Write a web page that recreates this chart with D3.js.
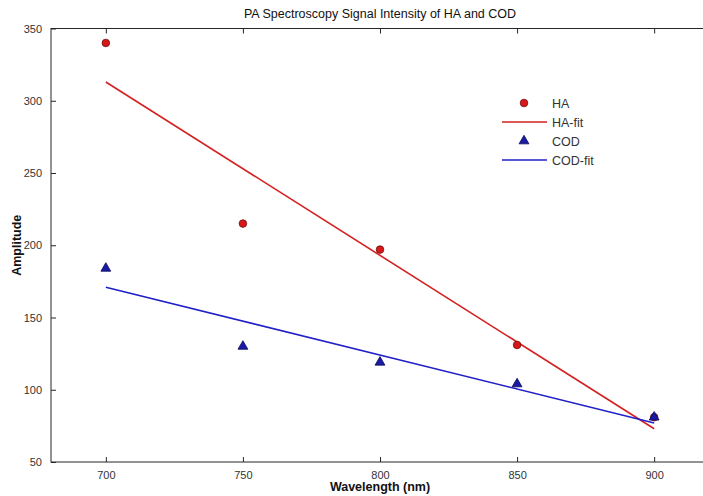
<!DOCTYPE html>
<html><head><meta charset="utf-8">
<script src="https://cdn.jsdelivr.net/npm/d3@7"></script>
<style>body{margin:0;background:#fff}svg{display:block}</style>
</head><body>
<svg id="c" width="703" height="496"></svg>
<script>
const wavelengths = [700, 750, 800, 850, 900];
const haValues = [340, 215, 197, 131, 81];
const codValues = [184, 130, 119, 104, 81];
const fitWavelengths = [700, 900];
const haFit = [313, 73];
const codFit = [171, 77];
const xTicks = [700, 750, 800, 850, 900];
const yTicks = [50, 100, 150, 200, 250, 300, 350];
const legendLabels = ["HA", "HA-fit", "COD", "COD-fit"];

const svg = d3.select("#c");
const L = 51, R = 709, T = 28.5, B = 462;
const x = d3.scaleLinear().domain([680, 920]).range([L, R]);
const y = d3.scaleLinear().domain([50, 350]).range([B, T]);
const axisColor = "#262626";
const font = "Arial, 'Liberation Sans', sans-serif";

svg.append("rect").attr("width",703).attr("height",496).attr("fill","#fff");

// frame
svg.append("rect").attr("x",L).attr("y",T).attr("width",R-L).attr("height",B-T)
  .attr("fill","none").attr("stroke",axisColor).attr("stroke-width",1);

// axes with inward ticks
const xAxis = svg.append("g").attr("transform",`translate(0,${B})`)
  .call(d3.axisBottom(x).tickValues(xTicks).tickSizeInner(-5).tickSizeOuter(0).tickPadding(9));
const xTop = svg.append("g").attr("transform",`translate(0,${T})`)
  .call(d3.axisTop(x).tickValues(xTicks).tickSizeInner(-5).tickSizeOuter(0).tickFormat(""));
const yAxis = svg.append("g").attr("transform",`translate(${L},0)`)
  .call(d3.axisLeft(y).tickValues(yTicks).tickSizeInner(-5).tickSizeOuter(0).tickPadding(9));
const yRight = svg.append("g").attr("transform",`translate(${R},0)`)
  .call(d3.axisRight(y).tickValues(yTicks).tickSizeInner(-5).tickSizeOuter(0).tickFormat(""));
[xAxis,xTop,yAxis,yRight].forEach(g=>{
  g.select(".domain").remove();
  g.selectAll("line").attr("stroke",axisColor);
  g.selectAll("text").attr("fill","#333").style("font-family",font).style("font-size","11px");
});

// fit lines
const line = d3.line().x(d=>x(d[0])).y(d=>y(d[1]));
svg.append("path").datum(fitWavelengths.map((w,i)=>[w,haFit[i]]))
  .attr("d",line).attr("fill","none").attr("stroke","#d42020").attr("stroke-width",1.6);
svg.append("path").datum(fitWavelengths.map((w,i)=>[w,codFit[i]]))
  .attr("d",line).attr("fill","none").attr("stroke","#2020c8").attr("stroke-width",1.6);

// markers
const tri = d3.symbol().type(d3.symbolTriangle).size(42);
svg.selectAll(".ha").data(wavelengths).enter().append("circle")
  .attr("cx",d=>x(d)).attr("cy",(d,i)=>y(haValues[i])).attr("r",3.8)
  .attr("fill","#d81818").attr("stroke","#701010").attr("stroke-width",0.8);
svg.selectAll(".cod").data(wavelengths).enter().append("path")
  .attr("transform",(d,i)=>`translate(${x(d)},${y(codValues[i])})`)
  .attr("d",tri()).attr("fill","#1a1aa8").attr("stroke","#0a0a50").attr("stroke-width",0.8);

// title & labels
svg.append("text").attr("x",(L+R)/2).attr("y",18).attr("text-anchor","middle")
  .style("font-family",font).style("font-size","12.5px").attr("fill","#111")
  .text("PA Spectroscopy Signal Intensity of HA and COD");
svg.append("text").attr("x",(L+R)/2).attr("y",491).attr("text-anchor","middle")
  .style("font-family",font).style("font-size","12.5px").style("font-weight","bold").attr("fill","#111")
  .text("Wavelength (nm)");
svg.append("text").attr("transform",`translate(21,${(T+B)/2}) rotate(-90)`).attr("text-anchor","middle")
  .style("font-family",font).style("font-size","12.5px").style("font-weight","bold").attr("fill","#111")
  .text("Amplitude");

// legend
const lg = svg.append("g");
const ly0 = 103, ldy = 19;
legendLabels.forEach((lab,i)=>{
  const yy = ly0 + i*ldy;
  if (i===0) lg.append("circle").attr("cx",524).attr("cy",yy).attr("r",3.8).attr("fill","#d81818").attr("stroke","#701010").attr("stroke-width",0.8);
  if (i===1) lg.append("line").attr("x1",502).attr("x2",547).attr("y1",yy).attr("y2",yy).attr("stroke","#d42020").attr("stroke-width",1.6);
  if (i===2) lg.append("path").attr("transform",`translate(524,${yy})`).attr("d",tri()).attr("fill","#1a1aa8").attr("stroke","#0a0a50").attr("stroke-width",0.8);
  if (i===3) lg.append("line").attr("x1",502).attr("x2",547).attr("y1",yy).attr("y2",yy).attr("stroke","#2020c8").attr("stroke-width",1.6);
  lg.append("text").attr("x",552).attr("y",yy+4.5).style("font-family",font).style("font-size","12.5px").attr("fill","#333").text(lab);
});
</script>
</body></html>
